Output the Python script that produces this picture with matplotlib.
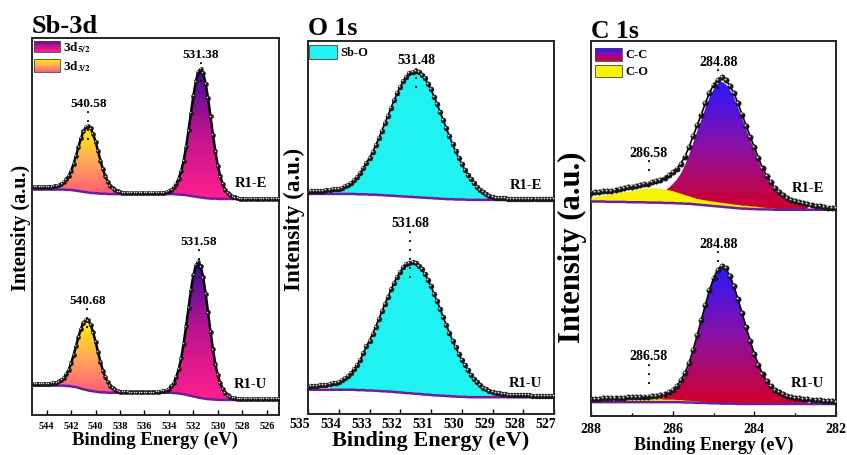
import numpy as np
import matplotlib
matplotlib.use("Agg")
import matplotlib.pyplot as plt
from matplotlib.colors import LinearSegmentedColormap
from matplotlib.patches import Polygon, Rectangle
from matplotlib.transforms import ScaledTranslation, blended_transform_factory

plt.rcParams["font.family"] = ["Liberation Serif", "DejaVu Serif"]
plt.rcParams["font.weight"] = "bold"
plt.rcParams["axes.labelweight"] = "bold"
plt.rcParams["mathtext.fontset"] = "stix"

# energy scans: (start, stop, step) in eV
sb_scan = (545.0, 525.0, 0.2)
o_scan = (535.0, 527.0, 0.1)
c_scan = (288.0, 282.0, 0.1)

# ---- Sb-3d (a.u., each spectrum on its own base) ----
sb_r1e = [10.5, 10.5, 10.5, 10.5, 10.5, 10.5, 10.6, 10.6, 10.7, 10.8,
          11.0, 11.3, 11.8, 12.5, 13.5, 14.8, 16.6, 18.8, 21.1, 23.4,
          25.2, 26.4, 26.7, 26.0, 24.5, 22.5, 20.0, 17.5, 15.2, 13.3,
          11.9, 10.8, 10.1, 9.6, 9.3, 9.1, 9.0, 8.9, 8.9, 8.8,
          8.8, 8.8, 8.8, 8.8, 8.8, 8.8, 8.8, 8.8, 8.8, 8.8,
          8.8, 8.9, 8.9, 9.0, 9.2, 9.4, 9.8, 10.4, 11.3, 12.7,
          14.8, 17.4, 21.1, 25.5, 30.2, 34.7, 38.5, 41.0, 41.8, 40.7,
          37.9, 34.0, 29.2, 24.3, 19.9, 16.1, 13.3, 11.3, 9.8, 8.9,
          8.3, 7.9, 7.7, 7.5, 7.4, 7.4, 7.3, 7.3, 7.3, 7.3,
          7.3, 7.3, 7.3, 7.3, 7.3, 7.3, 7.3, 7.3, 7.3, 7.3,
          7.3]
sb_r1u = [8.2, 8.2, 8.2, 8.2, 8.2, 8.2, 8.3, 8.4, 8.4, 8.6,
          8.9, 9.3, 9.9, 10.8, 12.0, 13.7, 15.9, 18.3, 20.7, 22.9,
          24.5, 25.3, 25.1, 23.9, 21.9, 19.4, 16.7, 14.1, 11.8, 10.0,
          8.7, 7.8, 7.1, 6.7, 6.4, 6.2, 6.2, 6.1, 6.1, 6.0,
          6.0, 6.0, 6.0, 6.0, 6.0, 6.0, 6.0, 6.0, 6.0, 6.0,
          6.1, 6.1, 6.3, 6.4, 6.6, 7.0, 7.7, 8.6, 10.1, 12.2,
          15.0, 18.9, 23.5, 28.4, 33.2, 37.1, 39.7, 40.5, 39.4, 36.5,
          32.2, 27.2, 22.1, 17.4, 13.4, 10.6, 8.4, 6.9, 5.9, 5.2,
          4.8, 4.6, 4.5, 4.3, 4.3, 4.2, 4.2, 4.2, 4.2, 4.2,
          4.2, 4.2, 4.2, 4.2, 4.2, 4.2, 4.2, 4.2, 4.2, 4.2,
          4.2]
sb_bg_r1e = [9.8, 9.8, 9.8, 9.8, 9.8, 9.8, 9.8, 9.8, 9.8, 9.8,
             9.8, 9.8, 9.8, 9.7, 9.7, 9.7, 9.6, 9.5, 9.4, 9.3,
             9.2, 9.1, 9.0, 8.9, 8.9, 8.8, 8.8, 8.7, 8.7, 8.7,
             8.6, 8.6, 8.6, 8.6, 8.6, 8.6, 8.6, 8.6, 8.6, 8.6,
             8.6, 8.6, 8.6, 8.6, 8.6, 8.6, 8.6, 8.6, 8.6, 8.6,
             8.6, 8.6, 8.6, 8.6, 8.6, 8.6, 8.6, 8.6, 8.5, 8.5,
             8.4, 8.4, 8.3, 8.2, 8.1, 8.0, 7.9, 7.8, 7.7, 7.6,
             7.5, 7.5, 7.4, 7.4, 7.4, 7.3, 7.3, 7.3, 7.3, 7.3,
             7.3, 7.3, 7.3, 7.3, 7.3, 7.3, 7.3, 7.3, 7.3, 7.3,
             7.3, 7.3, 7.3, 7.3, 7.3, 7.3, 7.3, 7.3, 7.3, 7.3,
             7.3]
sb_bg_r1u = [7.8, 7.8, 7.8, 7.8, 7.8, 7.8, 7.8, 7.8, 7.8, 7.8,
             7.8, 7.8, 7.8, 7.7, 7.7, 7.6, 7.5, 7.4, 7.2, 7.0,
             6.8, 6.7, 6.5, 6.4, 6.3, 6.2, 6.1, 6.0, 6.0, 6.0,
             5.9, 5.9, 5.9, 5.9, 5.9, 5.9, 5.9, 5.9, 5.9, 5.9,
             5.9, 5.9, 5.9, 5.9, 5.9, 5.9, 5.9, 5.9, 5.9, 5.9,
             5.9, 5.9, 5.9, 5.9, 5.9, 5.9, 5.9, 5.8, 5.8, 5.7,
             5.6, 5.5, 5.4, 5.2, 5.1, 4.9, 4.8, 4.6, 4.5, 4.4,
             4.3, 4.2, 4.2, 4.1, 4.1, 4.0, 4.0, 4.0, 4.0, 4.0,
             4.0, 4.0, 4.0, 4.0, 4.0, 4.0, 4.0, 4.0, 4.0, 4.0,
             4.0, 4.0, 4.0, 4.0, 4.0, 4.0, 4.0, 4.0, 4.0, 4.0,
             4.0]
sb_windows = {"3d3/2": (538.0, 543.4), "3d5/2": (528.4, 534.4)}
sb_peaks_r1e = ["540.58", "531.38"]
sb_peaks_r1u = ["540.68", "531.58"]

# ---- O 1s ----
o_r1e = [9.6, 9.7, 9.7, 9.7, 9.8, 9.9, 10.0, 10.1, 10.2, 10.3,
         10.4, 10.7, 11.0, 11.5, 12.0, 12.7, 13.6, 14.6, 16.0, 17.3,
         18.7, 20.3, 22.0, 23.9, 25.9, 28.0, 30.0, 32.1, 34.1, 36.0,
         37.7, 39.2, 40.4, 41.3, 41.8, 42.0, 41.7, 41.0, 40.0, 38.6,
         37.0, 35.1, 33.1, 30.9, 28.8, 26.6, 24.4, 22.4, 20.5, 18.7,
         17.0, 15.5, 14.2, 13.0, 11.8, 10.9, 10.1, 9.4, 8.9, 8.5,
         8.2, 8.0, 7.9, 7.8, 7.8, 7.7, 7.7, 7.7, 7.7, 7.7,
         7.7, 7.7, 7.6, 7.6, 7.6, 7.6, 7.6, 7.6, 7.6, 7.6,
         7.6]
o_r1u = [7.3, 7.4, 7.5, 7.6, 7.7, 7.8, 7.9, 8.0, 8.2, 8.4,
         8.7, 9.1, 9.6, 10.3, 11.1, 12.0, 13.2, 14.6, 16.3, 18.1,
         19.7, 21.5, 23.4, 25.4, 27.5, 29.5, 31.4, 33.4, 35.2, 36.8,
         38.1, 39.4, 40.2, 40.6, 40.7, 40.4, 39.8, 38.8, 37.5, 36.0,
         34.2, 32.2, 30.2, 28.1, 26.0, 23.8, 21.8, 19.7, 17.9, 16.2,
         14.5, 13.1, 11.8, 10.4, 9.4, 8.5, 7.8, 7.1, 6.6, 6.2,
         5.9, 5.7, 5.5, 5.4, 5.3, 5.2, 5.2, 5.1, 5.1, 5.0,
         5.0, 5.0, 5.0, 4.9, 4.9, 4.9, 4.9, 4.9, 4.9, 4.9,
         4.9]
o_bg_r1e = [9.0, 9.0, 9.0, 9.0, 9.0, 9.0, 9.0, 9.0, 9.0, 9.0,
            9.0, 9.0, 9.0, 9.0, 9.0, 9.0, 8.9, 8.9, 8.9, 8.9,
            8.8, 8.8, 8.8, 8.7, 8.7, 8.6, 8.6, 8.5, 8.5, 8.4,
            8.4, 8.3, 8.3, 8.2, 8.2, 8.1, 8.1, 8.0, 8.0, 7.9,
            7.9, 7.8, 7.8, 7.7, 7.7, 7.6, 7.6, 7.6, 7.5, 7.5,
            7.5, 7.5, 7.4, 7.4, 7.4, 7.4, 7.4, 7.4, 7.4, 7.4,
            7.4, 7.4, 7.4, 7.4, 7.4, 7.4, 7.4, 7.4, 7.4, 7.4,
            7.4, 7.4, 7.4, 7.4, 7.4, 7.4, 7.4, 7.4, 7.4, 7.4,
            7.4]
o_bg_r1u = [6.5, 6.5, 6.5, 6.5, 6.5, 6.5, 6.5, 6.5, 6.5, 6.5,
            6.5, 6.5, 6.5, 6.5, 6.5, 6.5, 6.4, 6.4, 6.4, 6.3,
            6.3, 6.3, 6.2, 6.2, 6.1, 6.1, 6.0, 6.0, 5.9, 5.8,
            5.8, 5.7, 5.6, 5.6, 5.5, 5.4, 5.4, 5.3, 5.2, 5.2,
            5.1, 5.0, 5.0, 4.9, 4.9, 4.8, 4.8, 4.7, 4.7, 4.6,
            4.6, 4.6, 4.5, 4.5, 4.5, 4.5, 4.5, 4.5, 4.5, 4.5,
            4.5, 4.5, 4.5, 4.5, 4.5, 4.5, 4.5, 4.5, 4.5, 4.5,
            4.5, 4.5, 4.5, 4.5, 4.5, 4.5, 4.5, 4.5, 4.5, 4.5,
            4.5]
o_window = (528.8, 534.3)
o_peaks_r1e = ["531.48"]
o_peaks_r1u = ["531.68"]

# ---- C 1s ----
c_r1e = [9.6, 9.7, 9.8, 9.9, 10.0, 10.1, 10.3, 10.6, 10.8, 11.0,
         11.2, 11.4, 11.6, 11.8, 12.0, 12.3, 12.6, 13.0, 13.6, 14.3,
         15.1, 16.0, 17.3, 19.2, 21.7, 24.6, 27.5, 30.4, 33.4, 36.1,
         38.3, 39.7, 40.3, 39.6, 38.1, 36.1, 33.4, 30.4, 27.4, 24.5,
         21.7, 18.8, 16.2, 14.1, 12.3, 10.8, 9.7, 8.9, 8.2, 7.7,
         7.3, 7.0, 6.7, 6.5, 6.3, 6.1, 6.0, 5.8, 5.6, 5.5,
         5.4]
c_r1u = [4.5, 4.6, 4.6, 4.7, 4.7, 4.8, 4.8, 4.9, 4.9, 5.0,
         5.0, 5.1, 5.1, 5.2, 5.2, 5.3, 5.4, 5.6, 5.9, 6.3,
         7.0, 8.0, 9.5, 11.5, 14.1, 17.6, 21.5, 25.6, 29.6, 33.5,
         36.7, 39.0, 40.1, 39.4, 37.4, 34.6, 31.2, 27.5, 23.7, 20.0,
         16.6, 13.7, 11.3, 9.4, 8.0, 7.0, 6.3, 5.8, 5.4, 5.1,
         4.9, 4.7, 4.6, 4.5, 4.4, 4.3, 4.2, 4.1, 4.0, 3.9,
         3.8]
c_bg_r1e = [7.2, 7.2, 7.2, 7.2, 7.1, 7.1, 7.1, 7.1, 7.1, 7.0,
            7.0, 7.0, 7.0, 7.0, 6.9, 6.9, 6.9, 6.9, 6.8, 6.8,
            6.8, 6.7, 6.7, 6.6, 6.6, 6.5, 6.4, 6.3, 6.2, 6.1,
            6.0, 5.9, 5.8, 5.7, 5.6, 5.5, 5.4, 5.3, 5.3, 5.2,
            5.2, 5.1, 5.1, 5.1, 5.1, 5.0, 5.0, 5.0, 5.0, 5.0,
            5.0, 5.0, 5.0, 5.0, 5.0, 5.0, 5.0, 5.0, 5.0, 5.0,
            5.0]
c_bg_r1u = [3.7, 3.7, 3.7, 3.7, 3.7, 3.7, 3.7, 3.7, 3.7, 3.7,
            3.7, 3.7, 3.7, 3.7, 3.7, 3.7, 3.7, 3.7, 3.7, 3.7,
            3.7, 3.7, 3.7, 3.6, 3.6, 3.6, 3.5, 3.5, 3.5, 3.4,
            3.4, 3.4, 3.3, 3.3, 3.3, 3.3, 3.2, 3.2, 3.2, 3.2,
            3.2, 3.2, 3.2, 3.2, 3.2, 3.2, 3.2, 3.2, 3.2, 3.2,
            3.2, 3.2, 3.2, 3.2, 3.2, 3.2, 3.2, 3.2, 3.2, 3.2,
            3.2]
# C-O component height above background
co_r1e = [1.2, 1.3, 1.5, 1.7, 1.9, 2.1, 2.3, 2.5, 2.7, 2.9,
          3.1, 3.3, 3.5, 3.7, 3.8, 3.9, 3.9, 3.8, 3.7, 3.5,
          3.3, 3.0, 2.7, 2.4, 2.1, 1.8, 1.6, 1.5, 1.4, 1.3,
          1.3, 1.2, 1.2, 1.1, 1.1, 1.0, 1.0, 0.9, 0.9, 0.8,
          0.8, 0.7, 0.6, 0.5, 0.5, 0.4, 0.3, 0.3, 0.2, 0.2,
          0.1, 0.1, 0.0, 0.0, 0.0, 0.0, 0.0, 0.0, 0.0, 0.0,
          0.0]
co_r1u = [0.6, 0.6, 0.6, 0.7, 0.7, 0.7, 0.7, 0.8, 0.8, 0.8,
          0.8, 0.8, 0.9, 0.9, 0.9, 0.9, 0.9, 0.9, 0.8, 0.8,
          0.8, 0.7, 0.7, 0.6, 0.6, 0.5, 0.5, 0.4, 0.4, 0.3,
          0.3, 0.2, 0.2, 0.2, 0.1, 0.1, 0.1, 0.0, 0.0, 0.0,
          0.0, 0.0, 0.0, 0.0, 0.0, 0.0, 0.0, 0.0, 0.0, 0.0,
          0.0, 0.0, 0.0, 0.0, 0.0, 0.0, 0.0, 0.0, 0.0, 0.0,
          0.0]
cc_window = (282.7, 286.6)
c_peaks_r1e = ["284.88", "286.58"]
c_peaks_r1u = ["284.88", "286.58"]

samples = ["R1-E", "R1-U"]
stack_offset = 50.0

# colours
sb52_cols = ["#ff1f8e", "#c0148f", "#3a0c9c"]
sb32_cols = ["#ff5a7a", "#ffad55", "#fff400"]
cc_cols = ["#d2002a", "#8a10a6", "#2a18ff"]
cyan = "#1ff2f0"
yellow = "#f8f400"
bg_col = "#6e1d9e"


def energies(start, stop, step):
    n = int(round((start - stop) / step)) + 1
    return np.round(start - step * np.arange(n), 2)


def gradient_fill(ax, x, ybot, ytop, colors, z, transform=None):
    tr = ax.transData if transform is None else transform
    x = np.asarray(x)
    ybot = np.asarray(ybot)
    ytop = np.asarray(ytop)
    verts = np.vstack([np.column_stack([x, ytop]),
                       np.column_stack([x[::-1], ybot[::-1]])])
    poly = Polygon(verts, closed=True, fc="none", ec="none", transform=tr)
    ax.add_patch(poly)
    cmap = LinearSegmentedColormap.from_list("g", colors)
    im = ax.imshow(np.linspace(0, 1, 256).reshape(-1, 1), cmap=cmap,
                   origin="lower", aspect="auto", interpolation="bilinear",
                   extent=[x.min(), x.max(), ybot.min(), ytop.max()],
                   zorder=z, transform=tr)
    im.set_clip_path(poly)


def spheres(ax, x, y, ms):
    ax.plot(x, y, ls="none", marker="o", ms=ms, mfc="#151515", mec="#151515",
            mew=0.3, zorder=6)
    hl = ax.transData + ScaledTranslation(-ms * 0.2 / 72, ms * 0.2 / 72,
                                          ax.figure.dpi_scale_trans)
    ax.plot(x, y, ls="none", marker="o", ms=ms * 0.38, mfc="#d5d5d5",
            mec="none", transform=hl, zorder=7)


def peak_label(ax, x, y, text, dy, fs, below=4.0):
    xv = float(text)
    yp = y[np.argmin(np.abs(x - xv))]
    ax.text(xv, yp + dy, text, ha="center", va="center", fontsize=fs, zorder=9)
    ax.plot([xv, xv], [yp + dy - 2.4, yp - below], color="k", lw=1.5,
            ls=(0, (0.1, 4.2)), dash_capstyle="round", zorder=6.5)


def sample_tag(ax, text, y, fs):
    tr = blended_transform_factory(ax.transAxes, ax.transData)
    ax.text(0.95, y, text, transform=tr, ha="right", va="center",
            fontsize=fs, zorder=9)


def legend_box(ax, x0, x1, y0, y1, colors, label, fs):
    if len(colors) > 1:
        gradient_fill(ax, [x0, x1], [y0, y0], [y1, y1], colors, 10,
                      transform=ax.transAxes)
        fc = "none"
    else:
        fc = colors[0]
    ax.add_patch(Rectangle((x0, y0), x1 - x0, y1 - y0, transform=ax.transAxes,
                           fc=fc, ec="#444444", lw=0.6, zorder=11))
    ax.text(x1 + 0.013, (y0 + y1) / 2, label, transform=ax.transAxes,
            ha="left", va="center", fontsize=fs, zorder=11)


def frame(ax, xlim, major, minor, tick_fs, xlab_fs, ylab_fs, ylab_x, ylab_y,
          title, title_fs, title_dy, pad):
    ax.set_xlim(*xlim)
    ax.set_ylim(0, 100)
    ax.set_xticks(major)
    ax.set_xticks(minor, minor=True)
    ax.set_yticks([])
    ax.tick_params(axis="x", which="both", direction="in", top=False,
                   labelsize=tick_fs, pad=pad, width=1.0)
    ax.tick_params(axis="x", which="major", length=3.5)
    ax.tick_params(axis="x", which="minor", length=2.5)
    for s in ax.spines.values():
        s.set_linewidth(1.4)
        s.set_color("#262626")
    ax.set_xlabel("Binding Energy (eV)", fontsize=xlab_fs, labelpad=0)
    ax.set_ylabel("Intensity (a.u.)", fontsize=ylab_fs)
    ax.yaxis.set_label_coords(ylab_x, ylab_y)
    ax.text(0.0, 1.0 + title_dy, title, transform=ax.transAxes, ha="left",
            va="baseline", fontsize=title_fs)


fig = plt.figure(figsize=(8.47, 4.56), dpi=100)
ax_sb = fig.add_axes([32 / 847, 1 - 416 / 456, 247 / 847, 377 / 456])
ax_o = fig.add_axes([308 / 847, 1 - 415 / 456, 246 / 847, 373 / 456])
ax_c = fig.add_axes([591 / 847, 1 - 417 / 456, 245 / 847, 375 / 456])

# ---------------- Sb-3d ----------------
be = energies(*sb_scan)
sb_sets = [(np.array(sb_r1e), np.array(sb_bg_r1e), stack_offset, sb_peaks_r1e, [6.0, 4.0], 4.5),
           (np.array(sb_r1u), np.array(sb_bg_r1u), 0.0, sb_peaks_r1u, [5.3, 5.7], 4.2)]
for (y, bg, off, peaks, dys, tag_dy), name in zip(sb_sets, samples):
    y = y + off
    bg = bg + off
    for key, cols in (("3d3/2", sb32_cols), ("3d5/2", sb52_cols)):
        lo, hi = sb_windows[key]
        m = (be >= lo) & (be <= hi)
        gradient_fill(ax_sb, be[m], bg[m], y[m], cols, 2)
    ax_sb.plot(be, bg, color=bg_col, lw=1.8, zorder=4)
    ax_sb.plot(be, y, color="k", lw=1.8, zorder=5)
    spheres(ax_sb, be, y, 3.0)
    for p, dy in zip(peaks, dys):
        peak_label(ax_sb, be, y, p, dy, 9.5)
    sample_tag(ax_sb, name, y[-1] + tag_dy, 10.5)
legend_box(ax_sb, 0.008, 0.113, 0.962, 0.993, sb52_cols, r"3d$_{\mathbf{5/2}}$", 9.5)
legend_box(ax_sb, 0.008, 0.113, 0.911, 0.944, sb32_cols, r"3d$_{\mathbf{3/2}}$", 9.5)
frame(ax_sb, (545.2, 525.0), np.arange(544, 525, -2), [], 7.5, 13.5, 14.5,
      -0.004, 0.5, "Sb-3d", 19, 0.016, 4.5)

# ---------------- O 1s ----------------
be = energies(*o_scan)
o_sets = [(np.array(o_r1e), np.array(o_bg_r1e), stack_offset, o_peaks_r1e, [3.0], 4.0),
          (np.array(o_r1u), np.array(o_bg_r1u), 0.0, o_peaks_r1u, [10.7], 3.6)]
for (y, bg, off, peaks, dys, tag_dy), name in zip(o_sets, samples):
    y = y + off
    bg = bg + off
    m = (be >= o_window[0]) & (be <= o_window[1])
    ax_o.fill_between(be[m], bg[m], y[m], color=cyan, lw=0, zorder=2)
    ax_o.plot(be, bg, color=bg_col, lw=1.8, zorder=4)
    ax_o.plot(be, y, color="k", lw=1.2, zorder=5)
    spheres(ax_o, be, y, 3.6)
    for p, dy in zip(peaks, dys):
        peak_label(ax_o, be, y, p, dy, 10, below=6.0)
    sample_tag(ax_o, name, y[-1] + tag_dy, 10.5)
legend_box(ax_o, 0.004, 0.118, 0.952, 0.989, [cyan], "Sb-O", 9)
frame(ax_o, (535, 527), np.arange(535, 526, -1), [], 10, 16, 16.5,
      -0.012, 0.525, "O 1s", 18.5, 0.019, 2.0)
for lab in ax_o.get_xticklabels():
    lab.set_transform(lab.get_transform()
                      + ScaledTranslation(-8 / 100, 0, fig.dpi_scale_trans))

# ---------------- C 1s ----------------
be = energies(*c_scan)
c_sets = [(np.array(c_r1e), np.array(c_bg_r1e), np.array(co_r1e), stack_offset, c_peaks_r1e, [4.9, 8.3], 5.6),
          (np.array(c_r1u), np.array(c_bg_r1u), np.array(co_r1u), 0.0, c_peaks_r1u, [7.1, 10.9], 5.2)]
for (y, bg, co, off, peaks, dys, tag_dy), name in zip(c_sets, samples):
    y = y + off
    bg = bg + off
    cc_top = y - co
    m = (be >= cc_window[0]) & (be <= cc_window[1])
    gradient_fill(ax_c, be[m], bg[m], np.maximum(cc_top[m], bg[m]), cc_cols, 2)
    mc = co > 0
    ax_c.fill_between(be[mc], bg[mc], bg[mc] + co[mc], color=yellow, lw=0, zorder=3)
    ax_c.plot(be, bg, color=bg_col, lw=1.8, zorder=4)
    ax_c.plot(be, y, color="k", lw=1.2, zorder=5)
    spheres(ax_c, be, y, 3.9)
    # main peak: dots run into the peak; shoulder: dots stop above the data
    peak_label(ax_c, be, y, peaks[0], dys[0], 10)
    peak_label(ax_c, be, y, peaks[1], dys[1], 10, below=-2.0)
    sample_tag(ax_c, name, y[-1] + tag_dy, 10.5)
legend_box(ax_c, 0.016, 0.127, 0.947, 0.981, cc_cols, "C-C", 9)
legend_box(ax_c, 0.016, 0.127, 0.904, 0.936, [yellow], "C-O", 9)
frame(ax_c, (288, 282), [288, 286, 284, 282], [287, 285, 283], 10, 13, 22,
      -0.016, 0.452, "C 1s", 18.5, 0.011, 4.5)

fig.savefig("out.png", dpi=100)
